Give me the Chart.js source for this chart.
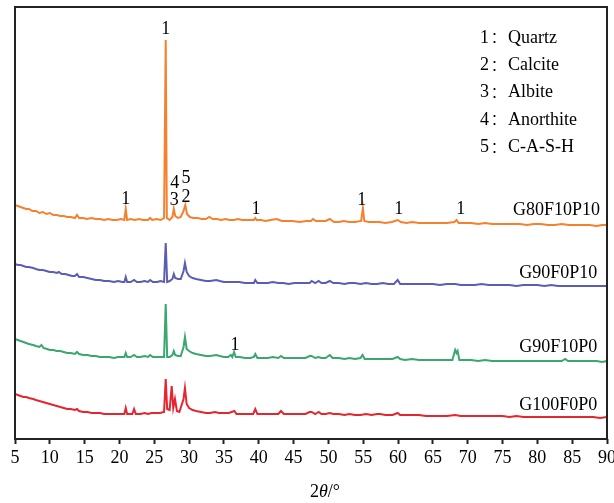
<!DOCTYPE html>
<html>
<head>
<meta charset="utf-8">
<script src="https://cdn.jsdelivr.net/npm/chart.js@4.4.1/dist/chart.umd.min.js"></script>
<style>
  html, body { margin: 0; padding: 0; background: #fff; }
  #wrap { width: 614px; height: 503px; }
</style>
</head>
<body>
<div id="wrap"><canvas id="xrd" width="614" height="503"></canvas></div>
<script>
// XRD patterns, [2θ, intensity (a.u., stacked)]
const g80f10p10 = [[5,234],[5.4,233],[5.8,232],[6.2,231],[6.6,230],[7,230],[7.5,228],[8,228],[8.5,226],[9,227],[9.5,225],[10,226],[10.5,224],[11,224],[11.5,223],[12,223],[12.5,222],[13,222],[13.6,221],[13.9,224],[14.2,221],[14.8,221],[15.3,220],[16,221],[16.6,220],[17.2,220],[17.8,219],[18.4,220],[19,219],[19.6,219],[20.2,220],[20.7,219],[20.9,230],[21.1,219],[21.6,220],[22.2,219],[22.8,220],[23.4,219],[24.1,219],[24.4,221],[24.7,219],[25.3,220],[25.9,219],[26.4,221],[26.64,399],[26.8,221],[27.2,219],[27.6,222],[27.8,230],[28.0,223],[28.4,221],[28.8,222],[29.2,228],[29.45,234],[29.7,225],[30.1,222],[30.6,221],[31.2,221],[31.8,220],[32.4,220],[32.9,222],[33.4,220],[34,220],[34.6,219],[35.2,220],[35.8,219],[36.4,219],[37,220],[37.6,219],[38.2,219],[38.8,219],[39.3,219],[39.5,221],[39.7,219],[40.3,219],[41,218],[41.7,219],[42.6,220],[43.3,218],[44,218],[44.8,218],[45.9,217],[46.8,218],[47.5,218],[47.8,220],[48.2,218],[48.9,218],[49.6,218],[50.2,220],[50.8,217],[51.5,217],[52.2,218],[53,217],[53.8,217],[54.7,218],[54.95,231],[55.15,218],[55.8,217],[56.5,217],[57.3,217],[58.2,216],[59.1,217],[59.95,219],[60.4,217],[61.2,216],[62,217],[63,216],[64,216],[65,216],[66,216],[67,216],[68.1,217],[68.4,219],[68.7,216],[69.5,216],[70.5,216],[71.5,215],[72.5,216],[73.5,215],[74.5,215],[75.5,215],[76.5,215],[77.5,215],[78.5,214],[79.5,215],[80.5,215],[81.5,214],[82.5,214],[83.5,215],[84.5,214],[85.5,214],[86.5,214],[87.5,214],[88.5,213],[89.3,214],[90,214]];

const g90f0p10 = [[5,175],[5.4,174],[5.8,174],[6.2,173],[6.6,172],[7,172],[7.6,171],[8,170],[8.5,169],[9,169],[9.5,168],[10,167],[10.5,167],[11,166],[11.3,167],[11.7,165],[12.2,165],[12.7,164],[13.2,163],[13.6,163],[13.9,165],[14.2,162],[14.8,162],[15.4,161],[16,160],[16.6,159],[17.2,159],[17.8,158],[18.5,158],[19.2,157],[19.8,158],[20.4,157],[20.7,157],[20.9,162],[21.1,157],[21.6,157],[22.1,159],[22.5,157],[23,157],[23.6,158],[24.1,157],[24.4,159],[24.8,157],[25.4,157],[25.9,158],[26.4,157],[26.64,196],[26.85,157],[27.2,158],[27.6,160],[27.8,165],[28.0,161],[28.4,160],[28.8,160],[29.2,168],[29.4,176],[29.65,167],[30.0,163],[30.5,161],[31.0,160],[31.7,159],[32.4,158],[33,158],[33.9,159],[34.4,158],[35,157],[35.7,157],[36.5,157],[37.2,157],[38,156],[38.8,156],[39.3,156],[39.5,159],[39.8,156],[40.5,156],[41.3,156],[42,157],[42.8,156],[43.5,156],[44.3,155],[45.1,156],[45.9,156],[46.7,156],[47.3,156],[47.6,158],[48.1,156],[48.6,158],[49.0,156],[49.6,156],[50.2,158],[50.7,156],[51.5,156],[52.3,155],[53,156],[53.8,156],[54.6,155],[55.4,156],[56.2,155],[57,155],[57.8,156],[58.6,155],[59.4,155],[59.95,159],[60.3,155],[61,155],[62,155],[63,155],[64,155],[65,155],[66,154],[67,155],[68.2,155],[69,154],[70,154],[71,154],[72,155],[73,154],[74,154],[75,154],[76,154],[77,153],[78,154],[79,154],[80,154],[81,153],[82,154],[83,153],[84,153],[85,153],[86,153],[87,153],[88,153],[89,153],[90,153]];

const g90f10p0 = [[5,100],[5.4,99],[5.8,98],[6.2,97],[6.6,96],[7,95],[7.6,94],[8,93],[8.5,92],[8.8,94],[9.1,91],[9.6,90],[10,89],[10.5,89],[11,88],[11.5,88],[12,87],[12.5,86],[13,86],[13.6,85],[13.9,87],[14.2,85],[14.8,84],[15.4,84],[16,83],[16.6,83],[17.2,82],[17.8,82],[18.5,82],[19.2,81],[19.8,82],[20.4,82],[20.7,82],[20.9,86],[21.1,82],[21.6,82],[22.1,84],[22.5,82],[23,82],[23.6,83],[24.1,82],[24.4,84],[24.8,82],[25.4,82],[25.9,82],[26.4,82],[26.64,135],[26.85,82],[27.2,82],[27.6,84],[27.8,88],[28.0,84],[28.4,83],[28.8,83],[29.2,92],[29.4,102],[29.65,90],[30.0,88],[30.5,86],[31.0,85],[31.7,84],[32.4,83],[33,83],[33.9,84],[34.4,83],[35,82],[35.6,82],[36.0,84],[36.2,82],[36.45,87],[36.7,82],[37.3,82],[38,81],[38.8,81],[39.3,82],[39.5,85],[39.8,81],[40.5,81],[41.3,81],[42,82],[42.8,81],[43.2,83],[43.6,81],[44.4,81],[45.1,81],[45.9,81],[46.7,81],[47.3,83],[47.6,83],[48.1,81],[48.6,82],[49.0,81],[49.6,81],[50.2,84],[50.6,81],[51.5,81],[52.3,80],[53,81],[53.8,80],[54.6,81],[54.9,84],[55.2,80],[56,80],[56.8,80],[57.6,80],[58.4,80],[59.2,80],[59.95,82],[60.3,80],[61,79],[62,80],[63,79],[64,79],[65,79],[66,79],[67,79],[67.8,79],[68.2,89],[68.4,86],[68.55,88],[68.8,79],[69.5,79],[70.5,79],[71.5,78],[72.5,79],[73.5,78],[74.5,78],[75.5,78],[76.5,78],[77.5,78],[78.5,78],[79.5,78],[80.5,78],[81.5,78],[82.5,78],[83.5,78],[84,80],[84.4,78],[85.5,78],[86.5,78],[87.5,78],[88.5,78],[89.3,77],[90,78]];

const g100f0p0 = [[5,45],[5.4,44],[5.8,43],[6.2,42],[6.6,42],[7,41],[7.6,40],[8,39],[8.5,38],[9,37],[9.5,36],[10,35],[10.5,34],[11,33],[11.5,32],[12,31],[12.5,30],[13,30],[13.6,29],[13.9,30],[14.2,28],[14.8,27],[15.4,27],[16,26],[16.6,26],[17.2,26],[17.8,25],[18.5,25],[19.2,25],[19.8,25],[20.4,25],[20.7,25],[20.9,31],[21.1,25],[21.6,25],[21.85,25],[22.1,30],[22.35,25],[23,25],[23.6,26],[24.1,25],[24.6,26],[25.2,26],[25.8,26],[26.4,27],[26.64,60],[26.85,30],[27.2,29],[27.5,53],[27.72,31],[27.97,40],[28.25,28],[28.6,27],[29.2,40],[29.4,51],[29.65,35],[30.0,31],[30.5,29],[31.0,28],[31.7,27],[32.4,26],[33,26],[33.7,27],[34.3,26],[35,26],[35.7,26],[36.5,28],[36.8,25],[37.5,25],[38.3,25],[39.2,25],[39.5,30],[39.8,25],[40.5,25],[41.3,25],[42,25],[42.8,25],[43.2,28],[43.6,25],[44.4,25],[45.1,25],[45.9,25],[46.7,25],[47.3,27],[47.6,27],[48.1,25],[48.6,27],[49.0,25],[49.6,25],[50.2,26],[50.7,25],[51.5,25],[52.3,24],[53,25],[53.8,24],[54.6,24],[55.4,25],[56.2,24],[57,25],[57.4,25],[58.2,24],[59.2,24],[59.95,26],[60.3,24],[61,24],[62,24],[63,24],[64,23],[65,23],[66,23],[67,23],[68.2,24],[69,23],[70,23],[71,23],[72,23],[73,23],[74,23],[75,23],[76,22],[77,23],[78,22],[79,22],[80,22],[81,22],[82,22],[83,22],[84,22],[85,22],[86,22],[87,22],[88,22],[89,21],[90,22]];

const sampleNames = ['G80F10P10', 'G90F0P10', 'G90F10P0', 'G100F0P0'];
const phases = ['Quartz', 'Calcite', 'Albite', 'Anorthite', 'C-A-S-H'];

// peak markers: [2θ, intensity, phase number]
const peakMarks = [
  [26.64, 410, '1'], [20.9, 240, '1'], [27.95, 256, '4'], [29.55, 261, '5'],
  [27.85, 239, '3'], [29.55, 242, '2'], [39.6, 230, '1'], [54.8, 239, '1'],
  [60.1, 230, '1'], [69.0, 230, '1'], [36.6, 94, '1']
];
// name label anchors: [2θ (right edge), intensity]
const nameSpots = [[89.0, 229], [88.6, 166], [88.6, 92], [88.6, 34]];

const colors = ['#f5812f', '#5b5db5', '#3ba670', '#e3262f'];
const series = [g80f10p10, g90f0p10, g90f10p0, g100f0p0];
const FONT = '"Liberation Serif", "Times New Roman", serif';

const textPlugin = {
  id: 'xrdText',
  afterDatasetsDraw(chart) {
    const ctx = chart.ctx;
    const xs = chart.scales.x, ys = chart.scales.y;
    const a = chart.chartArea;
    ctx.save();
    ctx.fillStyle = '#000';
    ctx.font = '18px ' + FONT;
    ctx.textBaseline = 'middle';

    ctx.textAlign = 'center';
    peakMarks.forEach(p => {
      ctx.fillText(p[2], xs.getPixelForValue(p[0]), ys.getPixelForValue(p[1]));
    });

    ctx.textAlign = 'right';
    sampleNames.forEach((n, i) => {
      ctx.fillText(n, xs.getPixelForValue(nameSpots[i][0]), ys.getPixelForValue(nameSpots[i][1]));
    });

    // phase legend
    ctx.textAlign = 'left';
    phases.forEach((p, i) => {
      const y = 38 + i * 27.3;
      ctx.font = '18px ' + FONT;
      ctx.fillText(String(i + 1), 480, y);
      ctx.font = '14px "Noto Sans CJK SC"';
      ctx.fillText('\uFF1A', 491, y - 1);
      ctx.font = '18px ' + FONT;
      ctx.fillText(p, 508, y);
    });

    // frame
    ctx.strokeStyle = '#222';
    ctx.lineWidth = 2;
    ctx.strokeRect(a.left, a.top, a.right - a.left, a.bottom - a.top);

    // axis title 2θ/°
    let x = 310;
    const ty = 492;
    ctx.font = '18px ' + FONT;
    ctx.fillText('2', x, ty); x += ctx.measureText('2').width;
    ctx.font = 'italic 18px ' + FONT;
    ctx.fillText('\u03B8', x, ty); x += ctx.measureText('\u03B8').width;
    ctx.font = '18px ' + FONT;
    ctx.fillText('/\u00B0', x, ty);
    ctx.restore();
  }
};

new Chart(document.getElementById('xrd'), {
  type: 'line',
  data: {
    datasets: series.map((s, i) => ({
      label: sampleNames[i],
      data: s.map(p => ({ x: p[0], y: p[1] })),
      borderColor: colors[i],
      borderWidth: 2,
      pointRadius: 0,
      tension: 0,
      fill: false
    }))
  },
  options: {
    responsive: false,
    animation: false,
    devicePixelRatio: 1,
    layout: { padding: { left: 15, right: 7, top: 7, bottom: 0 } },
    plugins: { legend: { display: false }, tooltip: { enabled: false } },
    scales: {
      x: {
        type: 'linear',
        min: 5,
        max: 90,
        border: { display: false },
        grid: { display: true, drawOnChartArea: false, drawTicks: true, tickLength: 5, tickWidth: 2, color: '#222' },
        ticks: { stepSize: 5, color: '#000', padding: 3, maxRotation: 0, autoSkip: false, font: { family: FONT, size: 18 } },
        afterFit(scale) {
          scale.height = 64;
          scale.paddingLeft = 0;
          scale.paddingRight = 0;
        }
      },
      y: { display: false, min: 0, max: 432 }
    }
  },
  plugins: [textPlugin]
});
</script>
</body>
</html>
